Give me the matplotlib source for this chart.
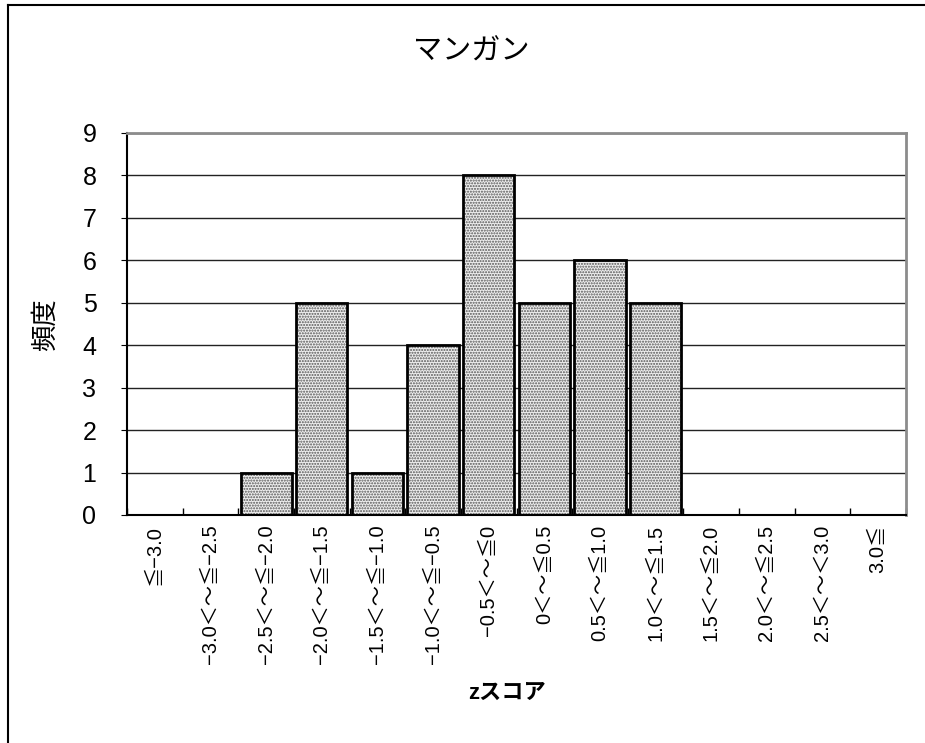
import matplotlib
matplotlib.use("Agg")
import matplotlib.pyplot as plt
from matplotlib.lines import Line2D
import numpy as np

plt.rcParams['font.family'] = ['Liberation Sans', 'Noto Sans CJK JP', 'DejaVu Sans']

title = "マンガン"
x_title = "zスコア"
y_title = "頻度"
categories = ["≦−3.0", "−3.0＜～≦−2.5", "−2.5＜～≦−2.0", "−2.0＜～≦−1.5",
              "−1.5＜～≦−1.0", "−1.0＜～≦−0.5", "−0.5＜～≦0", "0＜～≦0.5",
              "0.5＜～≦1.0", "1.0＜～≦1.5", "1.5＜～≦2.0", "2.0＜～≦2.5",
              "2.5＜～＜3.0", "3.0≦"]
counts = [0, 0, 1, 5, 1, 4, 8, 5, 6, 5, 0, 0, 0, 0]

fig = plt.figure(figsize=(9.25, 7.43), dpi=100)
ax = fig.add_axes([127 / 925, 1 - 515 / 743, (906 - 127) / 925, (515 - 133) / 743])

x = np.arange(len(categories))
# dotted fill, then black outline on top
ax.bar(x, counts, width=0.92, color="#eeeeee", edgecolor="#555555", hatch="......", linewidth=0, zorder=2)
ax.bar(x, counts, width=0.92, fill=False, edgecolor="black", linewidth=2, zorder=3)

ax.set_xlim(-0.5, len(categories) - 0.5)
ax.set_ylim(0, 9)
ax.set_yticks(range(10))
ax.yaxis.grid(True, color="#222222", linewidth=1)
ax.set_axisbelow(True)

ax.set_xticks(x)
ax.set_xticklabels(categories, rotation=90, fontsize=14.5)
ax.set_xticks(np.arange(len(categories) + 1) - 0.5, minor=True)
ax.tick_params(axis="x", which="major", length=0, pad=7)
ax.tick_params(axis="x", which="minor", direction="in", length=5, width=1)
ax.tick_params(axis="y", labelsize=18, length=4, direction="out", pad=18)

for side in ("top", "right"):
    ax.spines[side].set_color("#8c8c8c")
    ax.spines[side].set_linewidth(2)
for side in ("left", "bottom"):
    ax.spines[side].set_color("black")
    ax.spines[side].set_linewidth(1.5)

fig.text(46 / 925, 1 - 325 / 743, y_title, fontsize=19, rotation=90, ha="center", va="center")
fig.text(507 / 925, 1 - 693 / 743, x_title, fontsize=16, fontweight="bold", ha="center", va="center")
fig.text(471 / 925, 1 - 52 / 743, title, fontsize=21, ha="center", va="center")

# outer chart frame
fig.add_artist(Line2D([8 / 925, 8 / 925], [0, 1 - 5 / 743], color="black", linewidth=1.5, transform=fig.transFigure))
fig.add_artist(Line2D([8 / 925, 1], [1 - 5 / 743, 1 - 5 / 743], color="black", linewidth=1.5, transform=fig.transFigure))

fig.savefig("out.png", dpi=100)
